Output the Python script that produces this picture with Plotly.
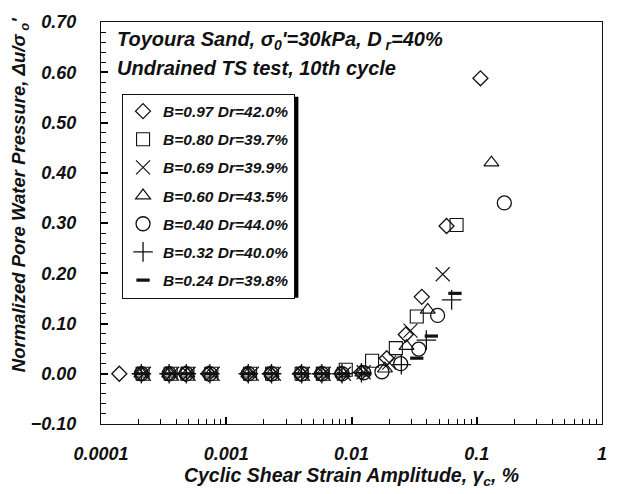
import plotly.graph_objects as go

# Toyoura sand, undrained torsional shear: 10th-cycle excess pore pressure
# versus cyclic shear strain amplitude, for several B-values.
labels = ["B=0.97 Dr=42.0%", "B=0.80 Dr=39.7%", "B=0.69 Dr=39.9%",
          "B=0.60 Dr=43.5%", "B=0.40 Dr=44.0%", "B=0.32 Dr=40.0%",
          "B=0.24 Dr=39.8%"]

strain_b097 = [0.000140, 0.000210, 0.000350, 0.000470, 0.000720, 0.00148, 0.00225,
               0.00390, 0.00570, 0.00830, 0.0120, 0.0191, 0.0271, 0.0364, 0.0574, 0.107]
pwp_b097 = [0.000, 0.000, 0.000, 0.000, 0.000, 0.000, 0.000,
            0.000, 0.000, 0.000, 0.003, 0.031, 0.078, 0.153, 0.294, 0.588]

strain_b080 = [0.000215, 0.000360, 0.000490, 0.000760, 0.00155, 0.00232, 0.00400,
               0.00590, 0.00900, 0.0146, 0.0226, 0.0332, 0.0690]
pwp_b080 = [0.000, 0.000, 0.000, 0.000, 0.000, 0.000, 0.000,
            0.000, 0.008, 0.026, 0.051, 0.114, 0.296]

strain_b069 = [0.000220, 0.000370, 0.000500, 0.000780, 0.00160, 0.00240, 0.00410,
               0.00600, 0.00870, 0.0125, 0.0200, 0.0296, 0.0535]
pwp_b069 = [0.000, 0.000, 0.000, 0.000, 0.000, 0.000, 0.000,
            0.000, 0.000, 0.003, 0.022, 0.086, 0.198]

strain_b060 = [0.000210, 0.000350, 0.000490, 0.000750, 0.00150, 0.00230, 0.00400,
               0.00580, 0.00850, 0.0122, 0.0185, 0.0275, 0.0406, 0.131]
pwp_b060 = [0.000, 0.000, 0.000, 0.000, 0.000, 0.000, 0.000,
            0.000, 0.000, 0.002, 0.010, 0.055, 0.127, 0.420]

strain_b040 = [0.000210, 0.000350, 0.000480, 0.000740, 0.00150, 0.00230, 0.00400,
               0.00580, 0.00840, 0.0125, 0.0175, 0.0247, 0.0344, 0.0487, 0.166]
pwp_b040 = [0.000, 0.000, 0.000, 0.000, 0.000, 0.000, 0.000,
            0.000, 0.000, 0.002, 0.004, 0.020, 0.049, 0.116, 0.340]

strain_b032 = [0.000210, 0.000350, 0.000480, 0.000740, 0.00150, 0.00230, 0.00400,
               0.00580, 0.00840, 0.0120, 0.0250, 0.0396, 0.0630]
pwp_b032 = [0.000, 0.000, 0.000, 0.000, 0.000, 0.000, 0.000,
            0.000, 0.000, 0.002, 0.018, 0.067, 0.147]

strain_b024 = [0.000215, 0.000355, 0.000490, 0.000760, 0.00152, 0.00232, 0.00405,
               0.00585, 0.00860, 0.0128, 0.0332, 0.0434, 0.0670]
pwp_b024 = [0.000, 0.000, 0.000, 0.000, 0.000, 0.000, 0.000,
            0.000, 0.000, 0.000, 0.031, 0.075, 0.160]

y_ticks = [-0.1, 0.0, 0.1, 0.2, 0.3, 0.4, 0.5, 0.6, 0.7]
x_ticks = [0.0001, 0.001, 0.01, 0.1, 1]
x_tick_text = ["0.0001", "0.001", "0.01", "0.1", "1"]
# log minor ticks: 2..9 within each decade
x_minor = [m * 10.0 ** e for e in range(-4, 0) for m in range(2, 10)]

FONT = "Liberation Sans, Arial, sans-serif"
INK = "#111111"

series = [
    (strain_b097, pwp_b097, "diamond-open", 11.5, 1.3),
    (strain_b080, pwp_b080, "square-open", 13, 1.1),
    (strain_b069, pwp_b069, "x-thin-open", 14, 1.1),
    (strain_b060, pwp_b060, "triangle-up-open", 13, 1.2),
    (strain_b040, pwp_b040, "circle-open", 14, 1.3),
    (strain_b032, pwp_b032, "cross-thin-open", 14, 1.3),
    (strain_b024, pwp_b024, "line-ew-open", 9.5, 3.2),
]

fig = go.Figure()
for i, (xs, ys, sym, size, lw) in enumerate(series):
    fig.add_trace(go.Scatter(
        x=xs, y=ys, mode="markers", name=labels[i], legendgroup=f"g{i}",
        marker=dict(symbol=sym, size=size, color=INK,
                    line=dict(color=INK, width=lw)),
    ))

# drop shadow behind the legend box
fig.add_shape(type="rect", xref="paper", yref="paper",
              x0=0.049, x1=0.394, y0=0.314, y1=0.814,
              fillcolor="black", line=dict(width=0), layer="above")

text_font = dict(family=FONT, size=20, color=INK, weight="bold", style="italic")
fig.add_annotation(
    x=0.027, y=0.953, xref="paper", yref="paper", xanchor="left", yanchor="middle",
    showarrow=False, align="left",
    text="Toyoura Sand, σ<sub>0</sub>'=30kPa, D<sub> r</sub>=40%", font=text_font,
)
fig.add_annotation(
    x=0.027, y=0.885, xref="paper", yref="paper", xanchor="left", yanchor="middle",
    showarrow=False, align="left",
    text="Undrained TS test, 10th cycle", font=text_font,
)

axis_font = dict(family=FONT, size=18, color=INK, weight="bold", style="italic")

# y-axis title, placed as a rotated annotation
fig.add_annotation(
    x=-0.161, y=0.57, xref="paper", yref="paper", xanchor="center", yanchor="middle",
    showarrow=False, textangle=-90,
    text="Normalized Pore Water Pressure, Δu/σ<sub> o</sub>'",
    font=dict(family=FONT, size=18.5, color=INK, weight="bold", style="italic"),
)

fig.update_layout(
    width=619, height=494,
    margin=dict(l=101, r=15, t=16, b=70),
    paper_bgcolor="white", plot_bgcolor="white",
    showlegend=True,
    legend=dict(
        x=0.042, y=0.822, xanchor="left", yanchor="top",
        bgcolor="white", bordercolor=INK, borderwidth=1,
        font=dict(family=FONT, size=15.5, color=INK, weight="bold", style="italic"),
        tracegroupgap=5, itemwidth=30,
    ),
    xaxis=dict(
        type="log", range=[-4, 0], tickvals=x_ticks, ticktext=x_tick_text,
        ticks="inside", ticklen=7, tickcolor="black", tickwidth=1.5,
        minor=dict(tickvals=x_minor, ticks="inside", ticklen=5, tickcolor="black",
                   tickwidth=1.2, showgrid=False),
        showline=True, linecolor=INK, linewidth=1.3, mirror=True,
        showgrid=False, zeroline=False, tickfont=axis_font, ticklabelstandoff=13,
        title=dict(text="Cyclic Shear Strain Amplitude, γ<sub>c</sub>, %",
                   font=dict(family=FONT, size=19.5, color=INK, weight="bold",
                             style="italic"), standoff=3),
    ),
    yaxis=dict(
        range=[-0.1, 0.7], tickvals=y_ticks, tickformat=".2f",
        ticks="inside", ticklen=7, tickcolor="black", tickwidth=1.5,
        minor=dict(dtick=0.02, tick0=0, ticks="inside", ticklen=5, tickcolor="black",
                   tickwidth=1.2, showgrid=False),
        showline=True, linecolor=INK, linewidth=1.3, mirror=True,
        showgrid=False, zeroline=False, tickfont=axis_font, ticklabelstandoff=20,
    ),
)

fig.write_html("out.html")
